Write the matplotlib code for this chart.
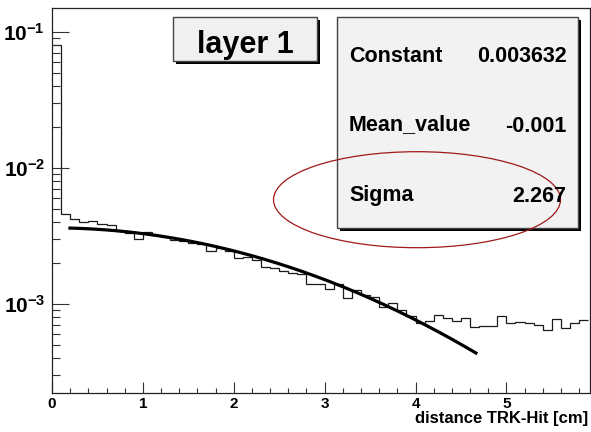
import numpy as np
import matplotlib
matplotlib.use('Agg')
import matplotlib.pyplot as plt
from matplotlib.patches import Rectangle, Ellipse
from matplotlib.ticker import FixedLocator, FixedFormatter, LogLocator, NullFormatter, MultipleLocator

plt.rcParams['font.family'] = ['Liberation Sans', 'DejaVu Sans']
plt.rcParams['font.weight'] = 'bold'
plt.rcParams['mathtext.fontset'] = 'custom'
plt.rcParams['mathtext.rm'] = 'Liberation Sans:bold'
plt.rcParams['mathtext.it'] = 'Liberation Sans:bold'
plt.rcParams['mathtext.bf'] = 'Liberation Sans:bold'
plt.rcParams['mathtext.sf'] = 'Liberation Sans:bold'

# ---------------- data ----------------
bin_edges = np.round(np.arange(0, 5.95, 0.1), 2)
counts = [
    0.080, 4.57e-3, 4.22e-3, 4.01e-3, 4.08e-3, 3.87e-3, 3.79e-3, 3.44e-3, 3.31e-3, 2.99e-3,
    3.40e-3, 3.22e-3, 3.13e-3, 2.96e-3, 2.89e-3, 2.82e-3, 2.75e-3, 2.45e-3, 2.57e-3, 2.47e-3,
    2.17e-3, 2.23e-3, 2.12e-3, 1.88e-3, 1.83e-3, 1.76e-3, 1.70e-3, 1.66e-3, 1.40e-3, 1.40e-3,
    1.29e-3, 1.40e-3, 1.11e-3, 1.27e-3, 1.17e-3, 1.12e-3, 9.55e-4, 1.02e-3, 9.03e-4, 8.20e-4,
    7.31e-4, 7.50e-4, 8.37e-4, 7.89e-4, 7.50e-4, 7.85e-4, 6.74e-4, 6.92e-4, 6.89e-4, 8.16e-4,
    7.29e-4, 7.41e-4, 7.29e-4, 7.01e-4, 6.44e-4, 7.72e-4, 6.63e-4, 7.21e-4, 7.63e-4,
]
fit_constant = 0.003632
fit_mean = -0.001
fit_sigma = 2.267
fit_range = (0.18, 4.68)

x_ticks = [0, 1, 2, 3, 4, 5]
x_tick_labels = ['0', '1', '2', '3', '4', '5']
y_ticks = [1e-3, 1e-2, 1e-1]
y_tick_labels = [r'$10^{-3}$', r'$10^{-2}$', r'$10^{-1}$']
stat_names = ['Constant', 'Mean_value', 'Sigma']
stat_values = ['0.003632', '-0.001', '2.267']
title_text = 'layer 1'
xlabel_text = 'distance TRK-Hit [cm]'

# ---------------- figure ----------------
W, H = 591, 432
fig = plt.figure(figsize=(W / 100, H / 100), dpi=100)
ax = fig.add_axes([52 / W, 1 - 393 / H, (590 - 52) / W, (393 - 8) / H])

ax.stairs(counts, bin_edges, baseline=None, color='#1a1a1a', lw=0.9)

fx = np.linspace(fit_range[0], fit_range[1], 300)
fy = fit_constant * np.exp(-0.5 * ((fx - fit_mean) / fit_sigma) ** 2)
ax.plot(fx, fy, color='black', lw=2.3, solid_capstyle='butt')

ax.set_yscale('log')
ax.set_xlim(0, 5.92)
ax.set_ylim(2.22e-4, 0.150)

ax.xaxis.set_major_locator(FixedLocator(x_ticks))
ax.xaxis.set_major_formatter(FixedFormatter(x_tick_labels))
ax.xaxis.set_minor_locator(MultipleLocator(0.2))
ax.yaxis.set_major_locator(FixedLocator(y_ticks))
ax.yaxis.set_major_formatter(FixedFormatter(y_tick_labels))
ax.yaxis.set_minor_locator(LogLocator(base=10, subs=np.arange(2, 10), numticks=20))
ax.yaxis.set_minor_formatter(NullFormatter())

ax.tick_params(axis='x', which='major', direction='in', length=8, width=0.8,
               color='#333333', labelsize=11, pad=3, top=False)
ax.tick_params(axis='x', which='minor', direction='in', length=3.8, width=0.8,
               color='#333333', top=False)
ax.tick_params(axis='y', which='major', direction='in', length=12, width=0.8,
               color='#333333', labelsize=15, pad=5, right=False)
ax.tick_params(axis='y', which='minor', direction='in', length=6, width=0.8,
               color='#333333', right=False)
for lab in ax.get_xticklabels() + ax.get_yticklabels():
    lab.set_fontweight('bold')
for sp in ax.spines.values():
    sp.set_color('#222222')
    sp.set_linewidth(0.9)

# x label (right aligned, ROOT style)
fig.text(588 / W, 1 - 423 / H, xlabel_text, ha='right', va='baseline',
         fontsize=12, fontweight='bold')

# ---------------- overlay in pixel coords ----------------
ov = fig.add_axes([0, 0, 1, 1], zorder=5)
ov.set_xlim(0, W)
ov.set_ylim(H, 0)
ov.axis('off')
ov.patch.set_alpha(0)

# title box
tb = (172.7, 17.3, 144.0, 43.7)
ov.add_patch(Rectangle((tb[0] + 3, tb[1] + 3), tb[2], tb[3], fc='black', ec='black', lw=0))
ov.add_patch(Rectangle((tb[0], tb[1]), tb[2], tb[3], fc='#f0f0f0', ec='#444444', lw=1))
ov.text(245.5, 52.7, title_text, ha='center', va='baseline', fontsize=22, fontweight='bold')

# stats box
sb = (336.7, 16.7, 241.6, 211.6)
ov.add_patch(Rectangle((sb[0] + 3, sb[1] + 3), sb[2], sb[3], fc='black', ec='black', lw=0))
ov.add_patch(Rectangle((sb[0], sb[1]), sb[2], sb[3], fc='#f2f2f2', ec='#444444', lw=1))
stat_baselines = [62.3, 130.0, 201.0]
value_baselines = [62.3, 132.0, 201.5]
for name, val, yb, yv in zip(stat_names, stat_values, stat_baselines, value_baselines):
    ov.text(349, yb, name, ha='left', va='baseline', fontsize=15.5, fontweight='bold')
    ov.text(566.7, yv, val, ha='right', va='baseline', fontsize=15.5, fontweight='bold')

# red ellipse
ov.add_patch(Ellipse((417.0, 199.7), 287.0, 96.0, fc='none', ec='#a01818', lw=0.9))

fig.savefig('out.png', dpi=100, facecolor='white')
